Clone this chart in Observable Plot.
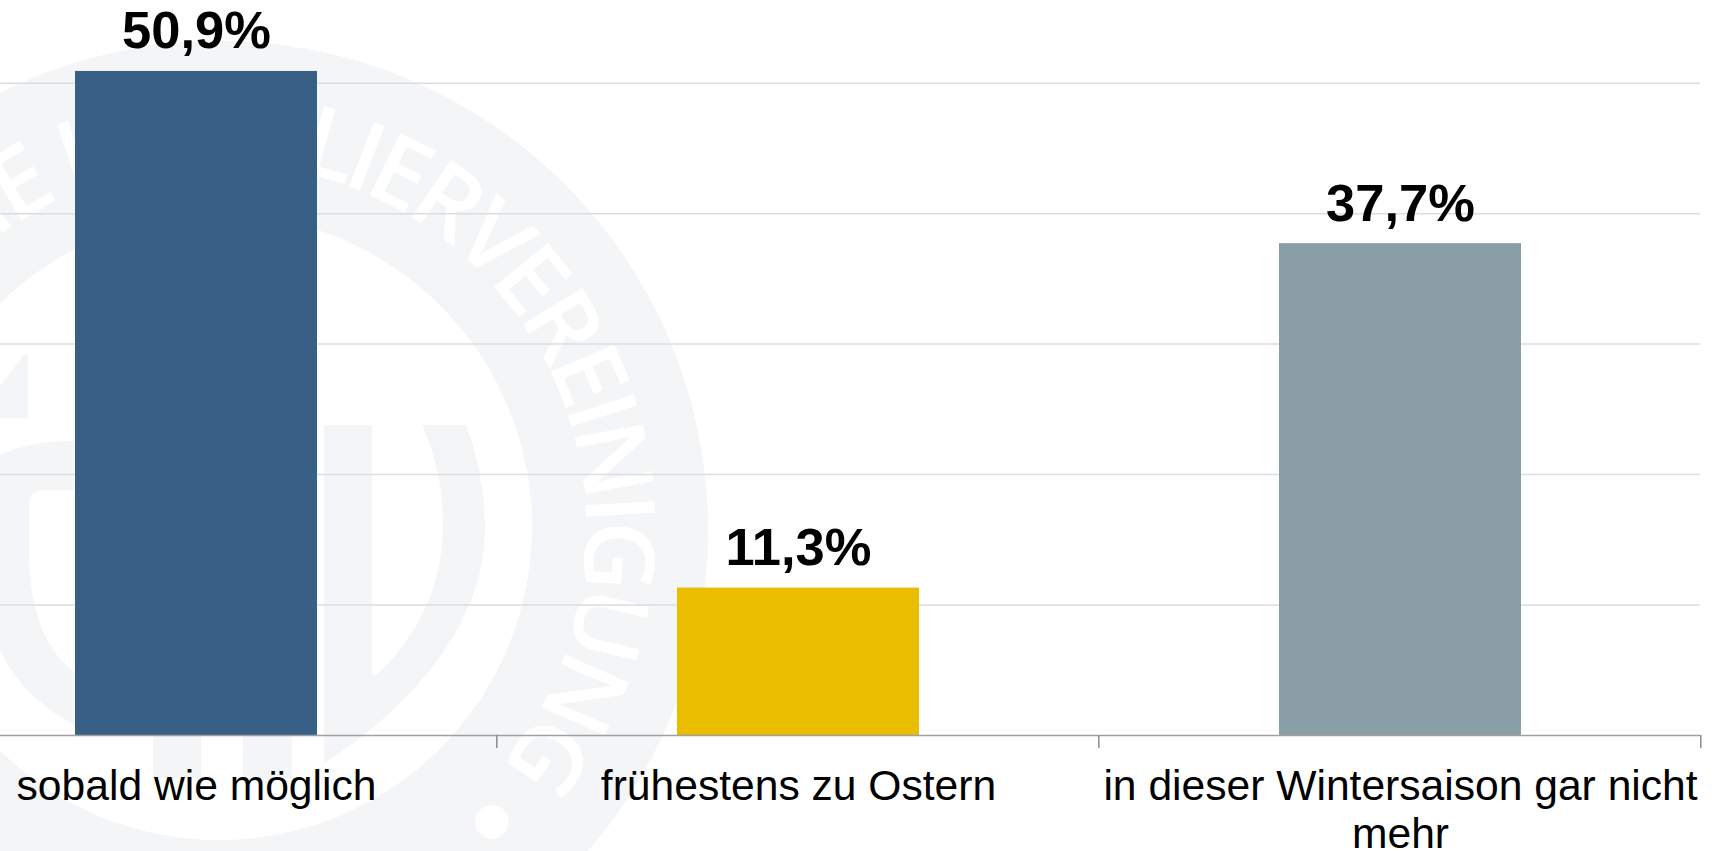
<!DOCTYPE html>
<html>
<head>
<meta charset="utf-8">
<style>html,body{margin:0;padding:0;background:#fff;overflow:hidden}svg{display:block;max-width:none!important}</style>
<script src="https://cdn.jsdelivr.net/npm/d3@7"></script>
<script src="https://cdn.jsdelivr.net/npm/@observablehq/plot@0.6"></script>
</head>
<body>
<div id="chart"></div>
<script>
const categories = ["sobald wie möglich", "frühestens zu Ostern", "in dieser Wintersaison gar nicht mehr"];
const tickLabels = ["sobald wie möglich", "frühestens zu Ostern", "in dieser Wintersaison gar nicht\nmehr"];
const values = [50.9, 11.3, 37.7];
const valueLabels = ["50,9%", "11,3%", "37,7%"];
const colors = ["#386087", "#e9bd00", "#899ea6"];
const gridValues = [10, 20, 30, 40, 50];

const table = categories.map((c, i) => ({c, v: values[i], label: valueLabels[i], fill: colors[i]}));
const labelOf = new Map(categories.map((c, i) => [c, tickLabels[i]]));

const SEAL = "#f4f5f7";
function watermark() {
  const cx = 219, cy = 530, R = 489, r = 313;
  const g = d3.create("svg:g");
  g.append("circle").attr("cx", cx).attr("cy", cy).attr("r", R).attr("fill", SEAL);
  g.append("circle").attr("cx", cx).attr("cy", cy - 3).attr("r", r).attr("fill", "#fff");
  const rad = a => (a - 90) * Math.PI / 180;
  const rt = 367, a0 = -178, a1 = 129;
  const px = a => cx + rt * Math.cos(rad(a)), py = a => cy + rt * Math.sin(rad(a));
  g.append("path").attr("id", "sealArc").attr("fill", "none")
    .attr("d", `M${px(a0)},${py(a0)}A${rt},${rt} 0 1 1 ${px(a1)},${py(a1)}`);
  g.append("text").attr("fill", "#fff").attr("font-family", "'Open Sans'").attr("font-weight", 600)
    .attr("font-size", 97).attr("letter-spacing", -7)
    .append("textPath").attr("href", "#sealArc").attr("startOffset", "100%").attr("text-anchor", "end")
    .text("ÖSTERREICHISCHE HOTELIERVEREINIGUNG");
  g.append("circle").attr("cx", 492).attr("cy", 822).attr("r", 17).attr("fill", "#fff");
  const shapes = [
    "M324,425L372,425L372,672Q373,678 378,674Q443,610 443,525Q443,470 422,425L466,425Q485,475 485,530Q485,600 430,670Q385,725 324,763Z",
    "M0,455Q30,441 74,441L74,490L45,490Q29,490 29,505L29,560Q32,640 74,672L74,725Q20,695 0,650Z",
    "M0,386L24,355Q28,352 28,358L28,418L0,418Z",
    "M153,725L201,725L201,778L153,778Z",
    "M243,725L292,725L292,778L243,778Z"
  ];
  for (const d of shapes) g.append("path").attr("d", d).attr("fill", SEAL);
  return g.node();
}

const chart = Plot.plot({
  width: 1721,
  height: 851,
  marginLeft: 0,
  marginRight: 21,
  marginTop: 0,
  marginBottom: 116,
  style: {background: "#fff", fontFamily: "'Liberation Sans'"},
  x: {domain: categories, range: [-105.3, 1700.7], paddingInner: 0.598, paddingOuter: 0.299, label: null},
  y: {domain: [0, 50], range: [735, 82.7], axis: null},
  marks: [
    watermark,
    Plot.ruleY(gridValues, {stroke: "#dcdde0", strokeWidth: 1.5}),
    Plot.barY(table, {x: "c", y: "v", fill: "fill"}),
    Plot.ruleY([0], {stroke: "#a0a0a0", strokeWidth: 1.5}),
    Plot.axisX({tickSize: 13, tickFormat: null, dx: 300.3, stroke: "#8c8c8c", strokeWidth: 1.5}),
    Plot.axisX({tickSize: 0, tickPadding: 30, tickFormat: d => labelOf.get(d), fontSize: 42.6, lineHeight: 1.13, fill: "#000", fontFamily: "'Liberation Sans'"}),
    Plot.text(table, {x: "c", y: "v", text: "label", fontSize: 52.5, fontWeight: "bold", fill: "#000", lineAnchor: "bottom", dy: -23, fontFamily: "'Liberation Sans'"})
  ]
});
document.getElementById("chart").appendChild(chart);
</script>
</body>
</html>
